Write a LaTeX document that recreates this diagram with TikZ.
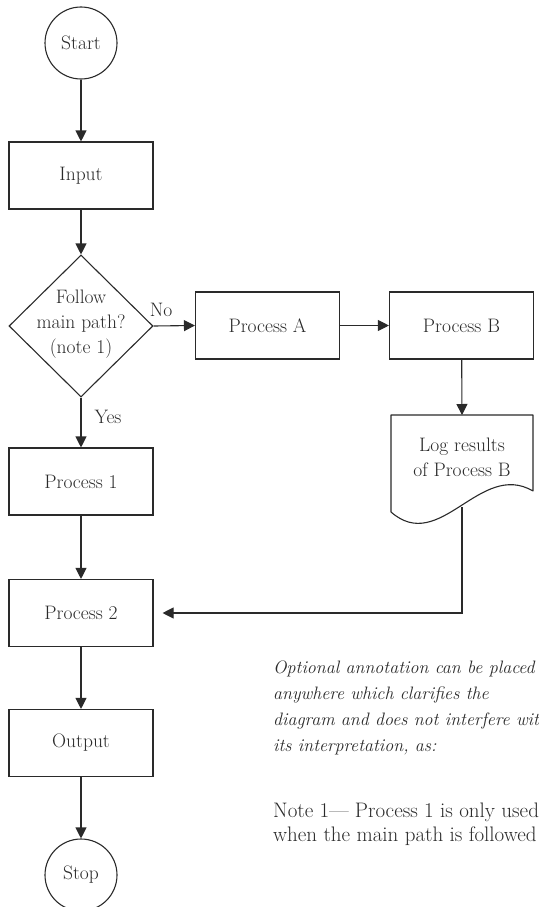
\documentclass[tikz,border=0pt]{standalone}
\usetikzlibrary{shapes.geometric,arrows.meta}
\definecolor{ink}{HTML}{2A2A2A}
\newcommand\flowfont{\fontsize{19.5}{25}\selectfont}
\newcommand\notefont{\fontsize{18}{26}\selectfont}
\begin{document}
\begin{tikzpicture}[x=1pt,y=-1pt,
  thinline/.style={draw=ink, line width=1.1pt},
  flow/.style={thinline, -{Triangle[length=11pt,width=11pt]}},
  procbox/.style={rectangle, draw=ink, line width=1.1pt, minimum width=144pt,
    minimum height=67pt, inner sep=0pt, font=\flowfont, text=ink},
  term/.style={circle, draw=ink, line width=1.1pt, minimum size=72pt,
    inner sep=0pt, font=\flowfont, text=ink},
  decision/.style={diamond, draw=ink, line width=1.1pt, minimum width=144pt,
    minimum height=142pt, inner sep=0pt},
  lbl/.style={font=\flowfont, text=ink, inner sep=0pt, align=center},
]
\useasboundingbox (0,0) rectangle (538,907);
\clip (0,0) rectangle (538,907);

% main column
\node[term] (start) at (81,43) {Start};
\node[procbox] (input) at (81,175.5) {Input};
\node[decision] (dec) at (81,326) {};
\node[lbl] (dectext) at (81,324) {Follow\\main path?\\(note 1)};
\node[procbox] (p1) at (81,481.5) {Process 1};
\node[procbox] (p2) at (81,613) {Process 2};
\node[procbox] (out) at (81,743) {Output};
\node[term] (stop) at (81,875) {Stop};

% side branch
\node[procbox] (pa) at (267.5,325.5) {Process A};
\node[procbox] (pb) at (461.5,325.5) {Process B};

% document symbol for the log
\coordinate (logtop) at (462,415);
\coordinate (logbot) at (462,507);
\draw[thinline, line join=round] (391,415) -- (533,415) -- (533,491)
  .. controls (480,460) and (440,555) .. (391,512) -- cycle;
\node[lbl] (logt) at (462,457) {Log results\\of Process B};

% connectors
\draw[flow] (start) -- (input);
\draw[flow] (input) -- (dec.north);
\draw[flow] (dec.east) -- (pa.west);
\node[lbl] (nolbl) at (161,310) {No};
\draw[flow] (pa) -- (pb);
\draw[flow] (pb) -- (logtop);
\draw[flow] (dec.south) -- (p1);
\node[lbl] (yeslbl) at (108,417) {Yes};
\draw[flow] (p1) -- (p2);
\draw[flow, shorten >=9pt] (logbot) |- (p2.east);
\draw[flow] (p2) -- (out);
\draw[flow] (out) -- (stop);

% annotation (anchored at the baseline of its last line)
\node[anchor=base west, inner sep=0pt, align=left, font=\notefont\itshape, text=ink]
  (annot) at (273,751) {Optional annotation can be placed\\
  anywhere which clarifies the\\
  diagram and does not interfere with\\
  its interpretation, as:};
\node[anchor=base west, inner sep=0pt, align=left, text=ink,
  font=\fontsize{21}{24}\selectfont]
  (note) at (273,841) {Note 1--- Process 1 is only used\\
  when the main path is followed};
\end{tikzpicture}
\end{document}
